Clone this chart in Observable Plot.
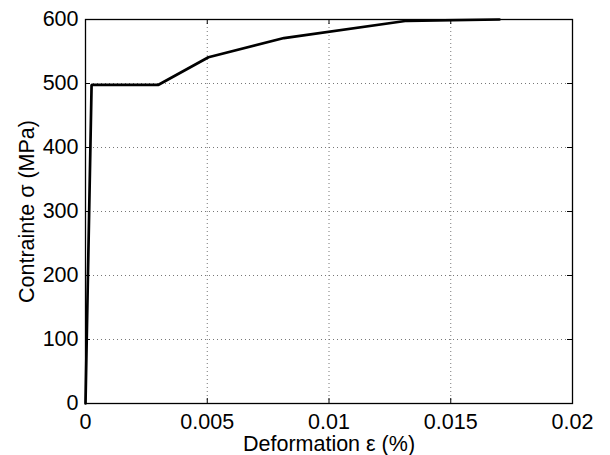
<!DOCTYPE html>
<html>
<head>
<meta charset="utf-8">
<script src="https://cdn.jsdelivr.net/npm/d3@7"></script>
<script src="https://cdn.jsdelivr.net/npm/@observablehq/plot@0.6"></script>
<style>
  html, body { margin: 0; padding: 0; background: #fff; }
  #chart { width: 610px; height: 455px; }
</style>
</head>
<body>
<div id="chart"></div>
<script>
// Data
const strain = [0, 0.00025, 0.003, 0.00505, 0.00815, 0.0132, 0.017];
const stress = [0, 498, 498, 541, 571, 598, 600];

const xTicks = [0, 0.005, 0.01, 0.015, 0.02];
const xTickLabels = ["0", "0.005", "0.01", "0.015", "0.02"];
const yTicks = [0, 100, 200, 300, 400, 500, 600];
const yTickLabels = ["0", "100", "200", "300", "400", "500", "600"];

const xLabel = "Deformation ε (%)";
const yLabel = "Contrainte σ (MPa)";

const data = strain.map((s, i) => ({strain: s, stress: stress[i]}));

const W = 610, H = 455;
const mL = 85, mR = 38, mT = 19, mB = 52;
const plotW = W - mL - mR, plotH = H - mT - mB;
const tickLen = 5;

const chart = Plot.plot({
  width: W,
  height: H,
  marginLeft: mL,
  marginRight: mR,
  marginTop: mT,
  marginBottom: mB,
  style: {fontFamily: "'Liberation Sans', Arial, Helvetica, sans-serif", fontSize: "21.5px", color: "#000", background: "#fff"},
  x: {domain: [0, 0.02]},
  y: {domain: [0, 600]},
  marks: [
    Plot.gridX(xTicks, {stroke: "#777", strokeOpacity: 1, strokeDasharray: "1,3", strokeWidth: 1}),
    Plot.gridY(yTicks, {stroke: "#777", strokeOpacity: 1, strokeDasharray: "1,3", strokeWidth: 1}),
    // inward ticks on all four sides
    Plot.tickX(xTicks, {x: d => d, stroke: "#000", insetTop: plotH - tickLen}),
    Plot.tickX(xTicks, {x: d => d, stroke: "#000", insetBottom: plotH - tickLen}),
    Plot.tickY(yTicks, {y: d => d, stroke: "#000", insetRight: plotW - tickLen}),
    Plot.tickY(yTicks, {y: d => d, stroke: "#000", insetLeft: plotW - tickLen}),
    Plot.axisX({ticks: xTicks, tickSize: 0, tickPadding: 10, label: null,
      tickFormat: d => xTickLabels[xTicks.indexOf(d)]}),
    Plot.axisY({ticks: yTicks, tickSize: 0, tickPadding: 7, label: null,
      tickFormat: d => yTickLabels[yTicks.indexOf(d)]}),
    Plot.line(data, {x: "strain", y: "stress", stroke: "#000", strokeWidth: 2.7, strokeLinejoin: "miter"}),
    Plot.frame({stroke: "#000", strokeWidth: 1.3}),
    Plot.text([xLabel], {text: d => d, frameAnchor: "bottom", dy: 47, lineAnchor: "bottom", textAnchor: "middle", fill: "#000"}),
    Plot.text([yLabel], {text: d => d, frameAnchor: "left", dx: -52, rotate: -90, lineAnchor: "bottom", textAnchor: "middle", fill: "#000"})
  ]
});

document.getElementById("chart").appendChild(chart);
</script>
</body>
</html>
